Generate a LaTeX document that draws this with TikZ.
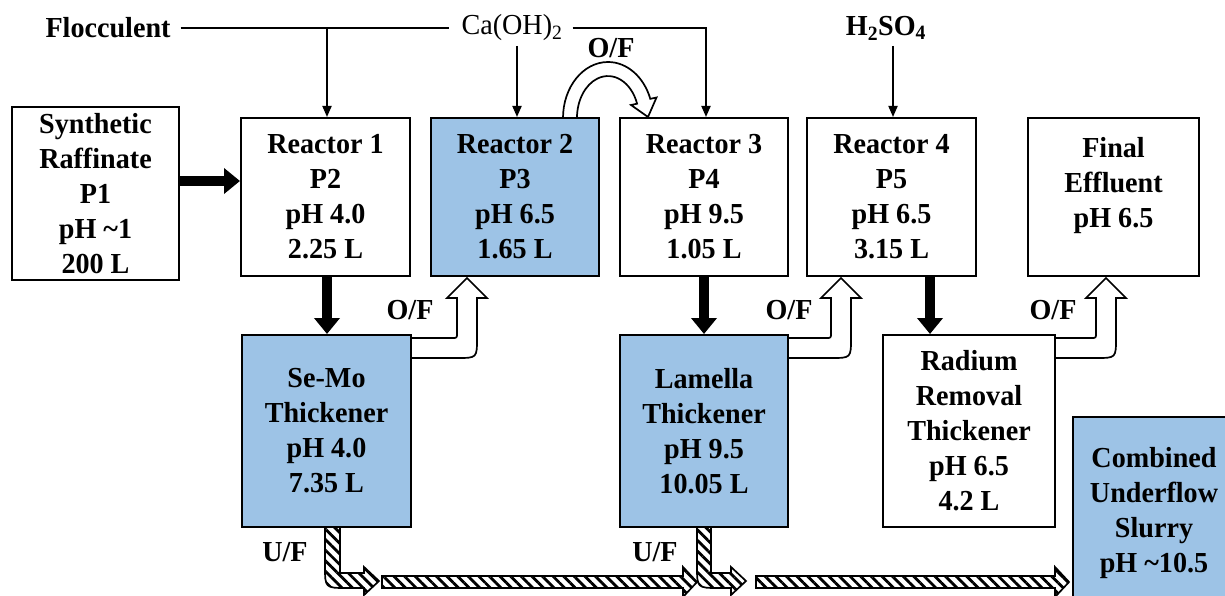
\documentclass[tikz,border=0pt]{standalone}
\usepackage{fontspec}
\setmainfont{Liberation Serif}[FakeStretch=0.97]
\usetikzlibrary{arrows.meta,calc,patterns.meta}
\definecolor{boxblue}{RGB}{157,195,230}
\begin{document}
\begin{tikzpicture}[x=1pt,y=-1pt,
  box/.style={draw,line width=2pt,inner sep=0pt,align=center,font=\bfseries\fontsize{29}{35}\selectfont},
  bluebox/.style={box,fill=boxblue},
  lbl/.style={font=\bfseries\fontsize{29}{30}\selectfont,inner sep=0pt},
  rlbl/.style={font=\fontsize{29}{30}\selectfont,inner sep=0pt},
  feedline/.style={line width=1.8pt},
  feed/.style={line width=1.8pt,-{Triangle[length=11pt,width=9pt]}},
  bigarrow/.style={line width=10pt,-{Triangle[length=16pt,width=25pt]}},
  hollow/.style={draw=black,line width=1.7pt,fill=white,line join=miter},
  hatch/.style={draw=black,line width=1.7pt,line join=miter,pattern={Lines[angle=-45,distance=7.5pt,line width=2.8pt]}}
]
\useasboundingbox (0,0) rectangle (1225,596);
\clip (0,0) rectangle (1225,596);

% boxes
\node[box,minimum width=167,minimum height=173] (raf) at (95.5,193.5) {Synthetic\\Raffinate\\P1\\pH \textasciitilde1\\200 L};
\node[box,minimum width=169,minimum height=158] (r1) at (325.5,197) {Reactor 1\\P2\\pH 4.0\\2.25 L};
\node[bluebox,minimum width=168,minimum height=158] (r2) at (515,197) {Reactor 2\\P3\\pH 6.5\\1.65 L};
\node[box,minimum width=168,minimum height=158] (r3) at (704,197) {Reactor 3\\P4\\pH 9.5\\1.05 L};
\node[box,minimum width=169,minimum height=158] (r4) at (891.5,197) {Reactor 4\\P5\\pH 6.5\\3.15 L};
\node[box,minimum width=171,minimum height=158] (fe) at (1113.5,197) {Final\\Effluent\\pH 6.5\\[-6pt]\mbox{}};
\node[bluebox,minimum width=169,minimum height=192] (semo) at (326.5,431) {Se-Mo\\Thickener\\pH 4.0\\7.35 L};
\node[bluebox,minimum width=168,minimum height=192] (lam) at (704,431) {Lamella\\Thickener\\pH 9.5\\10.05 L};
\node[box,minimum width=172,minimum height=192] (rad) at (969,431) {Radium\\Removal\\Thickener\\pH 6.5\\4.2 L};
\node[bluebox,minimum width=162,minimum height=192] (comb) at (1154,513) {Combined\\Underflow\\Slurry\\pH \textasciitilde10.5};

% reagent labels
\node[lbl] (floc) at (108,28) {Flocculent};
\node[rlbl] (ca) at (512,28) {Ca(OH)\textsubscript{2}};
\node[lbl] (h2so4) at (886,28) {H\textsubscript{2}SO\textsubscript{4}};

\coordinate (j1) at (327,28);
\coordinate (j3) at (706,28);
\coordinate (ca1) at (517,46);
\coordinate (h1) at (893,46);
\draw[feedline] ($(floc.east)+(10,0)$) -- ($(ca.west)+(-12,0)$);
\draw[feed] (j1) -- (j1 |- r1.north);
\draw[feed] ($(ca.east)+(10,0)$) -- (j3) -- (j3 |- r3.north);
\draw[feed] (ca1) -- (ca1 |- r2.north);
\draw[feed] (h1) -- (h1 |- r4.north);

% thick black arrows
\draw[bigarrow] (raf.east |- 0,181) -- (r1.west |- 0,181);
\draw[bigarrow] (r1.south -| 327,0) -- (semo.north -| 327,0);
\draw[bigarrow] (r3.south) -- (lam.north);
\draw[bigarrow] (r4.south -| 930,0) -- (rad.north -| 930,0);

% hollow overflow arrows
\draw[hollow] (semo.east |- 0,338) -- (452,338) .. controls (457,338) .. (457,333) -- (457,298) -- (447,298) -- (467,278) -- (487,298) -- (477,298) -- (477,338) .. controls (477,358) .. (457,358) -- (semo.east |- 0,358);
\draw[hollow] (lam.east |- 0,338) -- (826,338) .. controls (831,338) .. (831,333) -- (831,298) -- (821,298) -- (841,278) -- (861,298) -- (851,298) -- (851,338) .. controls (851,358) .. (831,358) -- (lam.east |- 0,358);
\draw[hollow] (rad.east |- 0,338) -- (1091,338) .. controls (1096,338) .. (1096,333) -- (1096,298) -- (1086,298) -- (1106,278) -- (1126,298) -- (1116,298) -- (1116,338) .. controls (1116,358) .. (1096,358) -- (rad.east |- 0,358);

% curved overflow arrow over reactors 2 and 3
\coordinate (C) at (608,118);
\draw[hollow] (563,118) arc[start angle=180,end angle=340,x radius=45,y radius=56] -- (656.5,97.5) -- (648,117) -- (631,105) -- (637.1,103.7) arc[start angle=340,end angle=180,x radius=31,y radius=42] -- cycle;

% O/F and U/F labels
\node[lbl] (of0) at (611,48) {O/F};
\node[lbl] (of1) at (410,310) {O/F};
\node[lbl] (of2) at (789,310) {O/F};
\node[lbl] (of3) at (1053,310) {O/F};
\node[lbl] (uf1) at (285,552) {U/F};
\node[lbl] (uf2) at (655,552) {U/F};

% hatched underflow arrows
\draw[hatch] (325,527) -- (325,566) .. controls (325,588) .. (347,588) -- (364,588) -- (364,595) -- (379,581) -- (364,567) -- (364,573) -- (340,573) -- (340,527);
\draw[hatch] (382,576) -- (683,576) -- (683,567) -- (697,582) -- (683,597) -- (683,588) -- (382,588) -- cycle;
\draw[hatch] (697,527) -- (697,566) .. controls (697,588) .. (719,588) -- (731,588) -- (731,595) -- (746,581) -- (731,567) -- (731,573) -- (711,573) -- (711,527);
\draw[hatch] (756,576) -- (1055,576) -- (1055,567) -- (1069,582) -- (1055,597) -- (1055,588) -- (756,588) -- cycle;
\end{tikzpicture}
\end{document}
